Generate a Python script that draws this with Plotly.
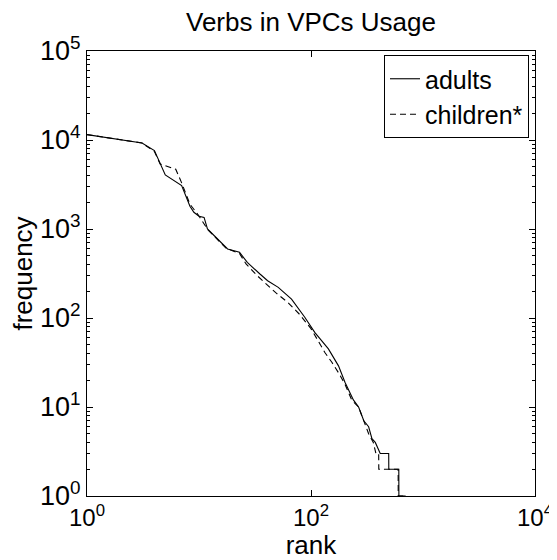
import plotly.graph_objects as go

# Rank-frequency data
adults_rank = [1, 3.1, 4.0, 5.0, 7.0, 8.3, 9.0, 10, 11.1, 11.9, 13.7, 18, 23, 27, 35, 41, 51, 67, 88,
               108, 143, 176, 201, 231, 239, 266, 296, 327, 350, 375, 415, 494, 495, 608, 609, 700]
adults_freq = [11500, 9250, 7600, 4050, 3070, 1800, 1540, 1390, 1350, 1000, 840, 596, 547, 422, 312, 262,
               221, 163, 102, 69, 45, 29, 19, 13, 12, 10, 7, 6, 4.4, 4, 3, 3, 2, 2, 1, 1]

children_rank = [1, 3.1, 4.0, 4.5, 6.2, 7.0, 8.3, 10, 12, 14, 17.4, 23, 26.3, 33, 39.8, 49, 62, 79, 100,
                 133, 153, 177, 201, 231, 266, 296, 327, 360, 380, 402, 403, 600, 601, 700]
children_freq = [11500, 9250, 7400, 5370, 4700, 3300, 1900, 1400, 980, 810, 610, 530, 405, 300, 240, 190,
                 150, 110, 76, 41, 32, 24, 18, 12, 10, 7, 5, 4, 3, 3, 2, 2, 1, 1]

x_tickvals = [1, 100, 10000]
x_ticktext = ["10<sup>0</sup>", "10<sup>2</sup>", "10<sup>4</sup>"]
y_tickvals = [1, 10, 100, 1000, 10000, 100000]
y_ticktext = ["10<sup>0</sup>", "10<sup>1</sup>", "10<sup>2</sup>", "10<sup>3</sup>", "10<sup>4</sup>",
              "10<sup>5</sup>"]

FONT = "Liberation Sans, Arial, Helvetica, sans-serif"

fig = go.Figure()
fig.add_trace(go.Scatter(x=adults_rank, y=adults_freq, mode="lines", name="adults",
                         line=dict(color="black", width=1.1)))
fig.add_trace(go.Scatter(x=children_rank, y=children_freq, mode="lines", name="children*",
                         line=dict(color="black", width=1.1, dash="6px,4px")))

# page body has an 8px margin, so the figure is drawn 8px right and down
fig.update_layout(
    width=549, height=552,
    margin=dict(l=79, r=22, t=43, b=64, autoexpand=False),
    paper_bgcolor="white", plot_bgcolor="white",
    font=dict(family=FONT, color="black", size=24),
    title=dict(text="Verbs in VPCs Usage", x=0.5, xref="paper", xanchor="center",
               y=1 - 14 / 552, yref="container", yanchor="middle",
               font=dict(size=26, family=FONT, color="black")),
    legend=dict(x=0.9866, y=0.991, xanchor="right", yanchor="top",
                bordercolor="black", borderwidth=1, bgcolor="white",
                font=dict(size=25, family=FONT, color="black"),
                tracegroupgap=0, itemwidth=30),
    showlegend=True,
)
fig.update_xaxes(type="log", range=[0, 4], tickvals=x_tickvals, ticktext=x_ticktext,
                 ticks="inside", ticklen=6, tickcolor="black", showgrid=False, zeroline=False,
                 showline=True, linecolor="black", linewidth=1, mirror="allticks",
                 title=dict(text="rank", font=dict(size=26), standoff=0),
                 tickfont=dict(size=24), automargin=False)
fig.update_yaxes(type="log", range=[0, 5], tickvals=y_tickvals, ticktext=y_ticktext,
                 ticks="inside", ticklen=6, tickcolor="black", showgrid=False, zeroline=False,
                 showline=True, linecolor="black", linewidth=1, mirror="allticks",
                 minor=dict(ticks="inside", ticklen=3, tickcolor="black", dtick="D1", showgrid=False),
                 title=dict(text="frequency", font=dict(size=26), standoff=6),
                 tickfont=dict(size=27), automargin=False)

fig.write_html("out.html")
